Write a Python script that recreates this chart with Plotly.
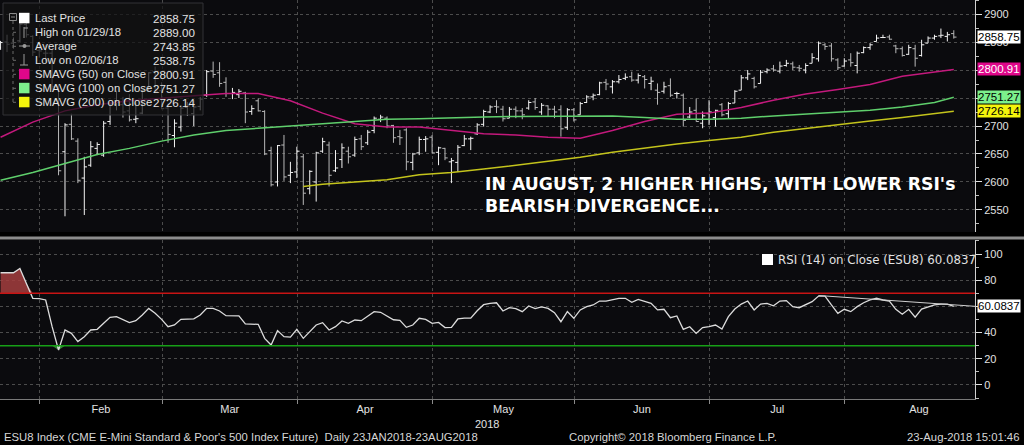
import numpy as np
import pandas as pd
import plotly.graph_objects as go

FONT = "Liberation Sans, Arial, sans-serif"
TEXT = "#e2e2e2"
GRID = "#4c4c4c"

# trading calendar (ESU8 daily, weekends + exchange holidays skipped)
START, END = "2018-01-23", "2018-08-23"
HOLIDAYS = ["2018-02-19", "2018-03-30", "2018-05-28", "2018-07-04"]
MONTHS = [2, 3, 4, 5, 6, 7, 8]

# daily bars
OPEN = [2840, 2850, 2848, 2852, 2881, 2860, 2835, 2830, 2830, 2770,
        2654, 2703, 2673, 2607, 2630, 2660, 2648, 2708, 2738, 2738,
        2727, 2712, 2723, 2764, 2797, 2763, 2732, 2683, 2698, 2733,
        2722, 2735, 2755, 2798, 2795, 2778, 2758, 2756, 2759, 2726,
        2745, 2726, 2656, 2600, 2666, 2612, 2618, 2645, 2588, 2600,
        2655, 2666, 2620, 2640, 2655, 2648, 2677, 2670, 2692, 2712,
        2714, 2701, 2681, 2693, 2635, 2652, 2676, 2680, 2653, 2660,
        2636, 2635, 2665, 2677, 2686, 2703, 2725, 2735, 2730, 2714,
        2730, 2727, 2732, 2743, 2725, 2736, 2730, 2729, 2697, 2729,
        2720, 2742, 2752, 2756, 2778, 2770, 2779, 2785, 2788, 2782,
        2788, 2776, 2764, 2762, 2772, 2758, 2755, 2716, 2728, 2705,
        2722, 2715, 2738, 2722, 2741, 2764, 2786, 2785, 2776, 2797,
        2802, 2798, 2808, 2811, 2804, 2800, 2812, 2820, 2845, 2843,
        2818, 2807, 2818, 2808, 2831, 2840, 2851, 2858, 2859, 2843,
        2838, 2828, 2838, 2826, 2848, 2857, 2861, 2860, 2865]
HIGH = [2852, 2863, 2858, 2887, 2889, 2862, 2851, 2845, 2836, 2774,
        2705, 2722, 2678, 2645, 2673, 2671, 2709, 2742, 2763, 2752,
        2757, 2742, 2765, 2796, 2806, 2778, 2740, 2712, 2737, 2743,
        2746, 2752, 2800, 2815, 2814, 2787, 2768, 2766, 2761, 2737,
        2749, 2728, 2663, 2666, 2684, 2636, 2663, 2650, 2621, 2654,
        2679, 2672, 2657, 2669, 2663, 2681, 2684, 2693, 2717, 2720,
        2717, 2702, 2693, 2696, 2652, 2681, 2682, 2684, 2663, 2661,
        2643, 2666, 2684, 2681, 2705, 2729, 2737, 2746, 2736, 2734,
        2735, 2732, 2746, 2750, 2741, 2737, 2736, 2737, 2732, 2732,
        2743, 2755, 2758, 2779, 2784, 2782, 2791, 2794, 2797, 2794,
        2791, 2788, 2776, 2779, 2785, 2761, 2758, 2734, 2749, 2726,
        2746, 2729, 2741, 2743, 2764, 2791, 2800, 2788, 2800, 2803,
        2809, 2815, 2818, 2815, 2809, 2812, 2830, 2851, 2848, 2848,
        2821, 2821, 2830, 2833, 2842, 2848, 2863, 2863, 2863, 2845,
        2842, 2845, 2845, 2854, 2860, 2863, 2874, 2868, 2871]
LOW = [2836, 2832, 2838, 2850, 2858, 2825, 2822, 2815, 2765, 2612,
       2538.75, 2675, 2598, 2541, 2627, 2648, 2645, 2702, 2728, 2715,
       2708, 2705, 2721, 2761, 2761, 2730, 2670, 2662, 2690, 2718,
       2700, 2728, 2752, 2786, 2770, 2752, 2748, 2750, 2705, 2720,
       2726, 2648, 2592, 2592, 2602, 2598, 2607, 2559, 2578, 2565,
       2652, 2592, 2618, 2625, 2633, 2645, 2657, 2666, 2687, 2707,
       2696, 2670, 2666, 2621, 2621, 2648, 2654, 2651, 2630, 2639,
       2598, 2618, 2664, 2657, 2684, 2699, 2723, 2723, 2708, 2714,
       2714, 2712, 2729, 2729, 2720, 2717, 2714, 2681, 2693, 2708,
       2720, 2741, 2746, 2755, 2764, 2758, 2776, 2782, 2779, 2776,
       2767, 2764, 2738, 2758, 2752, 2749, 2699, 2714, 2708, 2696,
       2702, 2699, 2717, 2714, 2741, 2764, 2782, 2767, 2776, 2794,
       2797, 2794, 2806, 2800, 2797, 2794, 2812, 2815, 2836, 2815,
       2800, 2806, 2806, 2794, 2830, 2836, 2851, 2857, 2854, 2830,
       2824, 2827, 2806, 2824, 2848, 2854, 2857, 2851, 2856]
CLOSE = [2849, 2846, 2849, 2882, 2863, 2832, 2834, 2830, 2770, 2620,
         2702, 2677, 2603, 2627, 2663, 2667, 2705, 2740, 2742, 2725,
         2711, 2713, 2763, 2795, 2762, 2731, 2685, 2705, 2732, 2736,
         2734, 2748, 2797, 2792, 2776, 2758, 2760, 2762, 2725, 2731,
         2727, 2650, 2595, 2665, 2609, 2617, 2655, 2580, 2619, 2652,
         2672, 2612, 2625, 2661, 2645, 2676, 2663, 2689, 2714, 2716,
         2700, 2679, 2679, 2636, 2650, 2676, 2677, 2652, 2661, 2643,
         2638, 2662, 2677, 2678, 2702, 2726, 2734, 2734, 2713, 2730,
         2727, 2720, 2742, 2733, 2737, 2730, 2725, 2695, 2729, 2711,
         2740, 2752, 2755, 2777, 2775, 2779, 2783, 2787, 2782, 2790,
         2783, 2780, 2760, 2770, 2755, 2758, 2710, 2725, 2708, 2718,
         2725, 2728, 2720, 2740, 2762, 2786, 2793, 2770, 2796, 2800,
         2800, 2807, 2812, 2805, 2803, 2808, 2822, 2848, 2842, 2820,
         2804, 2816, 2813, 2830, 2840, 2845, 2857, 2858, 2855, 2838,
         2826, 2840, 2821, 2845, 2857, 2860, 2862, 2863, 2858.75]

# moving averages, sampled every 5th session (index into the calendar)
SMA_DAYS = list(range(0, 146, 5)) + [148]
SMA50 = [2680, 2707, 2727, 2738, 2745, 2750, 2754, 2758, 2758, 2745,
         2723, 2704, 2698, 2698, 2692, 2686, 2684, 2680, 2678, 2692,
         2708, 2721, 2723, 2733, 2746, 2757, 2765, 2774, 2789, 2797, 2800.91]
SMA100 = [2603, 2617, 2633, 2649, 2660, 2673, 2684, 2692, 2696, 2700,
          2703, 2707, 2712, 2713, 2715, 2716, 2717, 2717, 2718, 2718,
          2715, 2712, 2712, 2714, 2718, 2721, 2725, 2728, 2734, 2742, 2751.27]
SMA200_DAYS = [47] + list(range(50, 146, 5)) + [148]
SMA200 = [2592, 2596, 2600, 2604, 2613, 2617, 2623, 2630, 2636, 2644, 2653,
          2661, 2668, 2674, 2680, 2689, 2696, 2702, 2709, 2715, 2722, 2726.14]

RSI = [85.7, 85.7, 85.7, 89.0, 77.5, 66.2, 66.0, 64.9, 44.5, 26.7,
       42.0, 39.4, 33.1, 36.9, 42.0, 42.5, 47.1, 51.7, 52.2, 49.6,
       47.6, 49.1, 53.4, 58.5, 54.7, 50.1, 44.5, 45.8, 50.1, 50.3,
       50.5, 53.4, 58.5, 58.5, 56.5, 52.9, 52.7, 52.7, 46.6, 46.6,
       46.3, 35.6, 30.5, 41.5, 36.9, 36.6, 42.5, 35.6, 40.7, 45.8,
       47.6, 42.0, 44.5, 48.9, 47.1, 49.6, 49.1, 52.7, 56.0, 55.5,
       52.7, 49.8, 49.3, 44.0, 45.8, 50.9, 50.1, 47.1, 47.8, 43.8,
       44.0, 50.4, 51.1, 51.1, 56.7, 61.3, 62.3, 62.8, 56.5, 59.0,
       58.3, 56.0, 60.3, 58.3, 59.6, 58.5, 55.2, 48.3, 56.0, 50.9,
       57.3, 59.8, 61.1, 64.1, 64.1, 64.9, 66.2, 66.2, 63.1, 65.4,
       64.1, 62.3, 57.3, 57.8, 51.4, 52.7, 42.5, 44.5, 39.4, 43.8,
       44.5, 45.8, 42.7, 52.2, 58.0, 61.8, 64.1, 57.3, 61.8, 62.3,
       60.5, 64.1, 64.4, 59.8, 59.0, 61.1, 63.6, 67.9, 67.9, 61.1,
       54.7, 57.8, 56.0, 59.8, 62.8, 64.9, 66.2, 64.9, 64.1, 57.8,
       54.0, 57.8, 51.7, 58.0, 59.3, 61.1, 61.8, 61.8, 60.0837]
RSI_UPPER, RSI_LOWER = 70, 30
# hand-drawn divergence line on the RSI panel
TREND_X = ["2018-07-25 22:00", "2018-08-29 05:00"]
TREND_Y = [68.3, 60.08]

PRICE_TICKS = [2550, 2600, 2650, 2700, 2750, 2800, 2850, 2900]
RSI_TICKS = [0, 20, 40, 60, 80, 100]
# axis labels that sit under a value tag in the original
HIDDEN_TICKS = [2750, 2800, 60]

LEGEND_ROWS = [("Last Price", "2858.75"), ("High on 01/29/18", "2889.00"),
               ("Average", "2743.85"), ("Low on 02/06/18", "2538.75"),
               ("SMAVG (50) on Close", "2800.91"), ("SMAVG (100) on Close", "2751.27"),
               ("SMAVG (200) on Close", "2726.14")]

C_LAST, C_50, C_100, C_200 = "#ffffff", "#e0078a", "#7cf08c", "#f4f40c"
L_50, L_100, L_200 = "#c3197c", "#5fcf6c", "#c4c41c"

hol = pd.to_datetime(HOLIDAYS)
days = pd.bdate_range(START, END)
days = days[~days.isin(hol)]
bar_x = days + pd.Timedelta(hours=22)
N = len(bar_x)

# month boundaries (grid) and month-centred labels
grid_x, label_x, label_txt = [], [], []
for m in MONTHS:
    first = int(np.argmax(days.month == m))
    full = pd.bdate_range(pd.Timestamp(2018, m, 1), pd.Timestamp(2018, m, 1) + pd.offsets.MonthEnd(0))
    count = int((~full.isin(hol)).sum())
    mid = first + count / 2
    grid_x.append(days[first])
    label_x.append(days[int(mid)] + pd.Timedelta(hours=24 * (mid - int(mid))))
    label_txt.append(days[first].strftime("%b"))

PLOT_W, PLOT_H = 975, 399


def px(x):
    return x / PLOT_W


def py(y):
    return (PLOT_H - y) / PLOT_H


fig = go.Figure()

# price pane
fig.add_trace(go.Ohlc(
    x=bar_x, open=OPEN, high=HIGH, low=LOW, close=CLOSE,
    increasing=dict(line=dict(color="#f4f4f4", width=1)),
    decreasing=dict(line=dict(color="#b9b9b9", width=1)),
    tickwidth=0.42, hoverinfo="skip", xaxis="x", yaxis="y",
))
for days_idx, vals, col in [(SMA_DAYS, SMA50, L_50), (SMA_DAYS, SMA100, L_100),
                            (SMA200_DAYS, SMA200, L_200)]:
    fig.add_trace(go.Scatter(x=bar_x[days_idx], y=vals, mode="lines",
                             line=dict(color=col, width=1.5), hoverinfo="skip",
                             xaxis="x", yaxis="y"))

# rsi pane: shaded overbought / oversold zones
rsi = np.array(RSI)
fig.add_trace(go.Scatter(x=bar_x, y=[RSI_UPPER] * N, mode="lines", line=dict(width=0),
                         hoverinfo="skip", xaxis="x2", yaxis="y2"))
fig.add_trace(go.Scatter(x=bar_x, y=np.maximum(rsi, RSI_UPPER), mode="lines",
                         line=dict(width=0), fill="tonexty",
                         fillcolor="rgba(165,62,62,0.85)", hoverinfo="skip",
                         xaxis="x2", yaxis="y2"))
fig.add_trace(go.Scatter(x=bar_x, y=[RSI_LOWER] * N, mode="lines", line=dict(width=0),
                         hoverinfo="skip", xaxis="x2", yaxis="y2"))
fig.add_trace(go.Scatter(x=bar_x, y=np.minimum(rsi, RSI_LOWER), mode="lines",
                         line=dict(width=0), fill="tonexty",
                         fillcolor="rgba(60,160,60,0.85)", hoverinfo="skip",
                         xaxis="x2", yaxis="y2"))
fig.add_trace(go.Scatter(x=bar_x, y=RSI, mode="lines", line=dict(color="#dcdcdc", width=1.3),
                         hoverinfo="skip", xaxis="x2", yaxis="y2"))
fig.add_trace(go.Scatter(x=TREND_X, y=TREND_Y, mode="lines", line=dict(color="#cfcfcf", width=1),
                         hoverinfo="skip", xaxis="x2", yaxis="y2"))

xr = ["2018-01-23 19:50", "2018-08-29 05:00"]
breaks = [dict(bounds=["sat", "mon"]), dict(values=HOLIDAYS)]
xcommon = dict(type="date", range=xr, rangebreaks=breaks, tickmode="array",
               tickvals=label_x, ticktext=label_txt, showgrid=False,
               zeroline=False, fixedrange=True, rangeslider=dict(visible=False))


def month_minor(ticks):
    return dict(tickmode="array", tickvals=grid_x, showgrid=True, gridcolor=GRID,
                griddash="dot", gridwidth=1, ticks=ticks, ticklen=4, tickcolor="#8a8a8a")


def tick_text(vals):
    return ["" if v in HIDDEN_TICKS else str(v) for v in vals]


fig.update_layout(
    width=1024, height=445,
    margin=dict(l=0, r=49, t=0, b=46),
    paper_bgcolor="#000000", plot_bgcolor="#0b0b0e",
    showlegend=False,
    font=dict(family=FONT, size=11, color=TEXT),
    xaxis=dict(**xcommon, anchor="y", showticklabels=False, ticks="", minor=month_minor("")),
    xaxis2=dict(**xcommon, anchor="y2", matches="x", ticks="",
                showline=True, linecolor="#7a7a7a", linewidth=1,
                minor=month_minor("outside"), tickfont=dict(size=11, color=TEXT)),
    yaxis=dict(domain=[1 - 232 / PLOT_H, 1], anchor="x", side="right",
               range=[2510.7, 2925], tickmode="array", tickvals=PRICE_TICKS,
               ticktext=tick_text(PRICE_TICKS),
               showgrid=True, gridcolor=GRID, griddash="dot", zeroline=False,
               ticks="outside", ticklen=6, tickcolor="#e0e0e0",
               showline=True, linecolor="#d0d0d0", linewidth=1,
               minor=dict(ticks="outside", ticklen=3, dtick=25, tick0=2500,
                          tickcolor="#bdbdbd", showgrid=False),
               tickfont=dict(size=11, color=TEXT), fixedrange=True),
    yaxis2=dict(domain=[0, 159 / PLOT_H], anchor="x2", side="right",
                range=[-10.7, 110.7], tickmode="array", tickvals=RSI_TICKS,
                ticktext=tick_text(RSI_TICKS),
                showgrid=True, gridcolor=GRID, griddash="dot", zeroline=False,
                ticks="outside", ticklen=6, tickcolor="#e0e0e0",
                showline=True, linecolor="#d0d0d0", linewidth=1,
                minor=dict(ticks="outside", ticklen=3, dtick=10, tick0=0,
                           tickcolor="#bdbdbd", showgrid=False),
                tickfont=dict(size=11, color=TEXT), fixedrange=True),
)

shapes = [
    # overbought / oversold levels
    dict(type="line", xref="x2 domain", yref="y2", x0=0, x1=1, y0=RSI_UPPER, y1=RSI_UPPER,
         line=dict(color="#c81414", width=1.5)),
    dict(type="line", xref="x2 domain", yref="y2", x0=0, x1=1, y0=RSI_LOWER, y1=RSI_LOWER,
         line=dict(color="#17a017", width=1.5)),
    # pane separator
    dict(type="line", xref="paper", yref="paper", x0=0, x1=px(1024), y0=py(238), y1=py(238),
         line=dict(color="#8c8c8c", width=3), layer="above"),
    # legend panel
    dict(type="rect", xref="paper", yref="paper", x0=px(3), x1=px(203), y0=py(3), y1=py(115),
         fillcolor="rgba(18,18,20,0.72)", line=dict(color="#333336", width=1), layer="above"),
    dict(type="line", xref="paper", yref="paper", x0=px(13), x1=px(13), y0=py(21), y1=py(102),
         line=dict(color="#6a6a6a", width=1, dash="dot"), layer="above"),
    dict(type="rect", xref="paper", yref="paper", x0=px(9.5), x1=px(16.5), y0=py(13.5), y1=py(20.5),
         line=dict(color="#8a8a8a", width=1), layer="above"),
    dict(type="line", xref="paper", yref="paper", x0=px(11), x1=px(15), y0=py(17), y1=py(17),
         line=dict(color="#8a8a8a", width=1), layer="above"),
    # legend glyphs for high / average / low rows
    dict(type="line", xref="paper", yref="paper", x0=px(24), x1=px(24), y0=py(27), y1=py(38),
         line=dict(color="#9a9a9a", width=1), layer="above"),
    dict(type="line", xref="paper", yref="paper", x0=px(24), x1=px(28), y0=py(28), y1=py(28),
         line=dict(color="#9a9a9a", width=1), layer="above"),
    dict(type="line", xref="paper", yref="paper", x0=px(19), x1=px(30), y0=py(46), y1=py(46),
         line=dict(color="#9a9a9a", width=1), layer="above"),
    dict(type="circle", xref="paper", yref="paper", x0=px(22.5), x1=px(26.5), y0=py(44), y1=py(48),
         fillcolor="#9a9a9a", line=dict(width=0), layer="above"),
    dict(type="line", xref="paper", yref="paper", x0=px(24), x1=px(24), y0=py(54), y1=py(65),
         line=dict(color="#9a9a9a", width=1), layer="above"),
    dict(type="line", xref="paper", yref="paper", x0=px(20), x1=px(28), y0=py(65), y1=py(65),
         line=dict(color="#9a9a9a", width=1), layer="above"),
    # rsi legend swatch
    dict(type="rect", xref="paper", yref="paper", x0=px(762), x1=px(773), y0=py(254), y1=py(265),
         fillcolor="#ffffff", line=dict(width=0), layer="above"),
]
for i in range(1, len(LEGEND_ROWS)):
    yc = 18.3 + 14 * i
    shapes.append(dict(type="line", xref="paper", yref="paper", x0=px(13), x1=px(18),
                       y0=py(yc), y1=py(yc), line=dict(color="#6a6a6a", width=1, dash="dot"),
                       layer="above"))
swatches = {0: C_LAST, 4: C_50, 5: C_100, 6: C_200}
for i, col in swatches.items():
    yc = 18.3 + 14 * i
    shapes.append(dict(type="rect", xref="paper", yref="paper", x0=px(19), x1=px(29.5),
                       y0=py(yc - 5.5), y1=py(yc + 5), fillcolor=col, line=dict(width=0),
                       layer="above"))
fig.update_layout(shapes=shapes)

ann = []
for i, (label, value) in enumerate(LEGEND_ROWS):
    yc = 18.3 + 14 * i
    ann.append(dict(xref="paper", yref="paper", x=px(33), y=py(yc), text=label,
                    xanchor="left", yanchor="middle", showarrow=False,
                    font=dict(size=11.3, color=TEXT)))
    ann.append(dict(xref="paper", yref="paper", x=px(197), y=py(yc), text=value,
                    xanchor="right", yanchor="middle", showarrow=False,
                    font=dict(size=11.6, color=TEXT)))

# value tags on the right axis
tags = [(CLOSE[-1], "y", "%.2f" % CLOSE[-1], C_LAST, "#000000"),
        (SMA50[-1], "y", "%.2f" % SMA50[-1], C_50, "#ffffff"),
        (SMA100[-1], "y", "%.2f" % SMA100[-1], C_100, "#000000"),
        (SMA200[-1], "y", "%.2f" % SMA200[-1], C_200, "#000000"),
        (RSI[-1], "y2", "%.4f" % RSI[-1], C_LAST, "#000000")]
for val, yref, txt, bg, fg in tags:
    ann.append(dict(xref="paper", yref=yref, x=1, y=val, text=txt, xanchor="left",
                    yanchor="middle", xshift=2, showarrow=False, bgcolor=bg, borderpad=0,
                    font=dict(size=11.5, color=fg)))

ann += [
    dict(xref="paper", yref="paper", x=px(776), y=py(259.5),
         text="RSI (14) on Close (ESU8) %.4f" % RSI[-1], xanchor="left", yanchor="middle",
         showarrow=False, font=dict(family="DejaVu Sans, sans-serif", size=11.8, color=TEXT)),
    dict(xref="paper", yref="paper", x=px(483), y=py(195),
         text="<b>IN AUGUST, 2 HIGHER HIGHS, WITH LOWER RSI's<br>BEARISH DIVERGENCE...</b>",
         xanchor="left", yanchor="middle", align="left", showarrow=False,
         font=dict(family="DejaVu Sans, sans-serif", size=17.3, color="#ffffff",
                   shadow="1px 1px 1px #000")),
    dict(xref="paper", yref="paper", x=px(487), y=py(424), text="2018", showarrow=False,
         xanchor="center", yanchor="middle", font=dict(size=11, color=TEXT)),
    dict(xref="paper", yref="paper", x=px(2), y=py(437), xanchor="left", yanchor="middle",
         text="ESU8 Index (CME E-Mini Standard &amp; Poor's 500 Index Future)  Daily 23JAN2018-23AUG2018",
         showarrow=False, font=dict(size=11.3, color="#d6d6d6")),
    dict(xref="paper", yref="paper", x=px(567), y=py(437), xanchor="left", yanchor="middle",
         text="Copyright© 2018 Bloomberg Finance L.P.", showarrow=False,
         font=dict(size=11.3, color="#d6d6d6")),
    dict(xref="paper", yref="paper", x=px(1021), y=py(437), xanchor="right", yanchor="middle",
         text="23-Aug-2018 15:01:46", showarrow=False, font=dict(size=11.3, color="#d6d6d6")),
]
fig.update_layout(annotations=ann)

fig.write_html("out.html", config={"displayModeBar": False},
               post_script="document.body.style.margin='0';document.body.style.background='#000';")
